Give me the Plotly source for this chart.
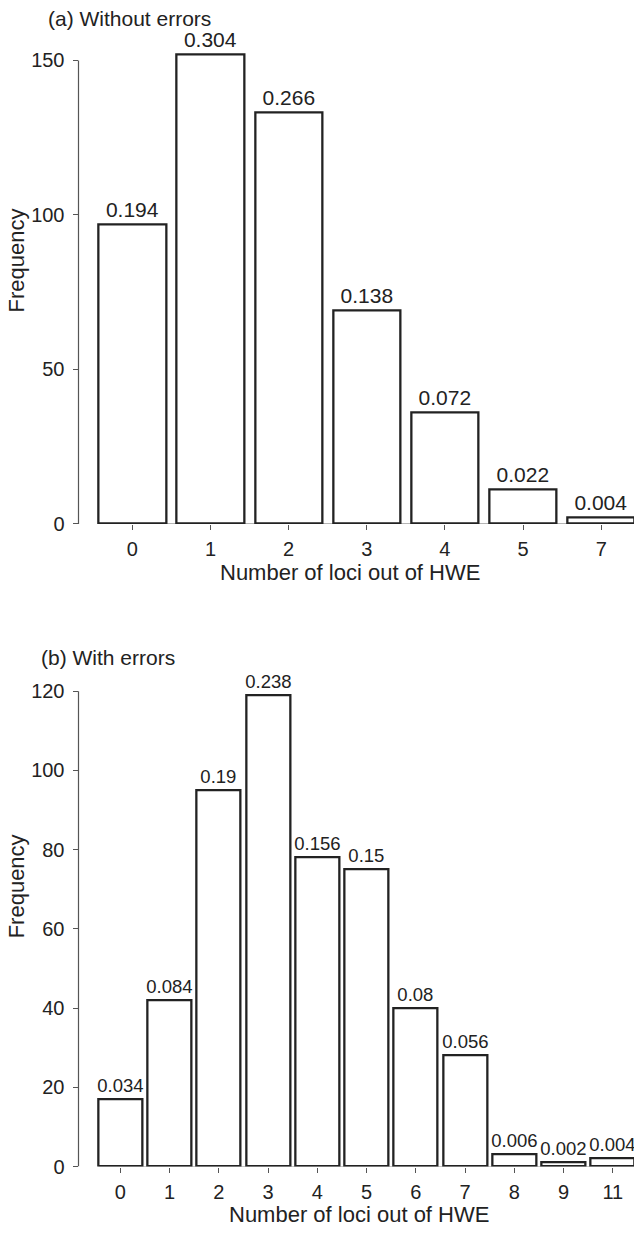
import plotly.graph_objects as go

W, H = 634, 1238
N_REPLICATES = 500

# Panel (a): replicates without genotyping errors
loci_a = ["0", "1", "2", "3", "4", "5", "7"]
prop_a = [0.194, 0.304, 0.266, 0.138, 0.072, 0.022, 0.004]

# Panel (b): replicates with genotyping errors
loci_b = ["0", "1", "2", "3", "4", "5", "6", "7", "8", "9", "11"]
prop_b = [0.034, 0.084, 0.19, 0.238, 0.156, 0.15, 0.08, 0.056, 0.006, 0.002, 0.004]

yticks_a = [0, 50, 100, 150]
yticks_b = [0, 20, 40, 60, 80, 100, 120]

FONT = "Liberation Sans, Arial, Helvetica, sans-serif"
INK = "#222222"
AXIS = "#555555"


def py(px):
    """Convert a pixel row (from top) to paper coordinates."""
    return 1 - px / H


def px_x(px):
    return px / W


fig = go.Figure()

panels = [
    dict(cats=loci_a, props=prop_a, xa="x", ya="y", width=0.86, tsize=21,
         ticks=yticks_a, bottom=528, top=50, ppu=3.12, xr=[-0.69, 6.42],
         title="(a) Without errors", title_xy=(46, 18), ytitle_y=262,
         xtitle_xy=(350, 577)),
    dict(cats=loci_b, props=prop_b, xa="x2", ya="y2", width=0.89, tsize=18.5,
         ticks=yticks_b, bottom=1177, top=685, ppu=4.0, xr=[-0.85, 10.43],
         title="(b) With errors", title_xy=(39, 663), ytitle_y=894,
         xtitle_xy=(359, 1225)),
]

layout_axes = {}
shapes = []
annotations = []

for i, p in enumerate(panels):
    freq = [v * N_REPLICATES for v in p["props"]]
    labels = [f"{v:g}" for v in p["props"]]
    fig.add_trace(go.Bar(
        x=p["cats"], y=freq, xaxis=p["xa"], yaxis=p["ya"],
        width=p["width"],
        marker=dict(color="white", line=dict(color=INK, width=2.3)),
        text=labels, textposition="outside", cliponaxis=False,
        constraintext="none",
        outsidetextfont=dict(family=FONT, size=p["tsize"], color=INK),
        showlegend=False, hoverinfo="skip",
    ))

    xkey = "xaxis" if i == 0 else "xaxis2"
    ykey = "yaxis" if i == 0 else "yaxis2"
    yr_top = (p["bottom"] - p["top"]) / p["ppu"]
    layout_axes[xkey] = dict(
        domain=[px_x(78.5), 1], anchor=p["ya"], type="category",
        range=p["xr"], showgrid=False, zeroline=False, showline=False,
        ticks="outside", ticklen=5, tickwidth=1, tickcolor=AXIS,
        tickfont=dict(family=FONT, size=20, color=INK),
        ticklabelstandoff=2,
    )
    layout_axes[ykey] = dict(
        domain=[py(p["bottom"]), py(p["top"])], anchor=p["xa"],
        range=[0, yr_top], showgrid=False, zeroline=False, showline=False,
        tickvals=p["ticks"], ticks="outside", ticklen=5, tickwidth=1,
        tickcolor=AXIS, tickfont=dict(family=FONT, size=20, color=INK),
        ticklabelstandoff=4,
    )

    # y axis line spanning only the labelled tick range
    shapes.append(dict(
        type="line", xref=f"{p['xa']} domain", yref=p["ya"],
        x0=0, x1=0, y0=0, y1=max(p["ticks"]),
        line=dict(color=AXIS, width=1.2), layer="below",
    ))
    # baseline under the bars
    half = p["width"] / 2
    shapes.append(dict(
        type="line", xref=p["xa"], yref=p["ya"],
        x0=-half, x1=len(p["cats"]) - 1 + half, y0=0, y1=0,
        line=dict(color="#888888", width=1), layer="below",
    ))

    tx, ty = p["title_xy"]
    annotations.append(dict(
        text=p["title"], xref="paper", yref="paper",
        x=px_x(tx), y=py(ty), xanchor="left", yanchor="middle",
        showarrow=False, font=dict(family=FONT, size=21, color=INK),
    ))
    annotations.append(dict(
        text="Frequency", xref="paper", yref="paper", textangle=-90,
        x=px_x(16), y=py(p["ytitle_y"]), xanchor="center", yanchor="middle",
        showarrow=False, font=dict(family=FONT, size=22, color=INK),
    ))
    xx, xy = p["xtitle_xy"]
    annotations.append(dict(
        text="Number of loci out of HWE", xref="paper", yref="paper",
        x=px_x(xx), y=py(xy), xanchor="center", yanchor="middle",
        showarrow=False, font=dict(family=FONT, size=22, color=INK),
    ))

fig.update_layout(
    width=W, height=H,
    margin=dict(l=0, r=0, t=0, b=0),
    paper_bgcolor="white", plot_bgcolor="white",
    shapes=shapes, annotations=annotations,
    bargap=0,
    **layout_axes,
)

fig.write_html("out.html")
